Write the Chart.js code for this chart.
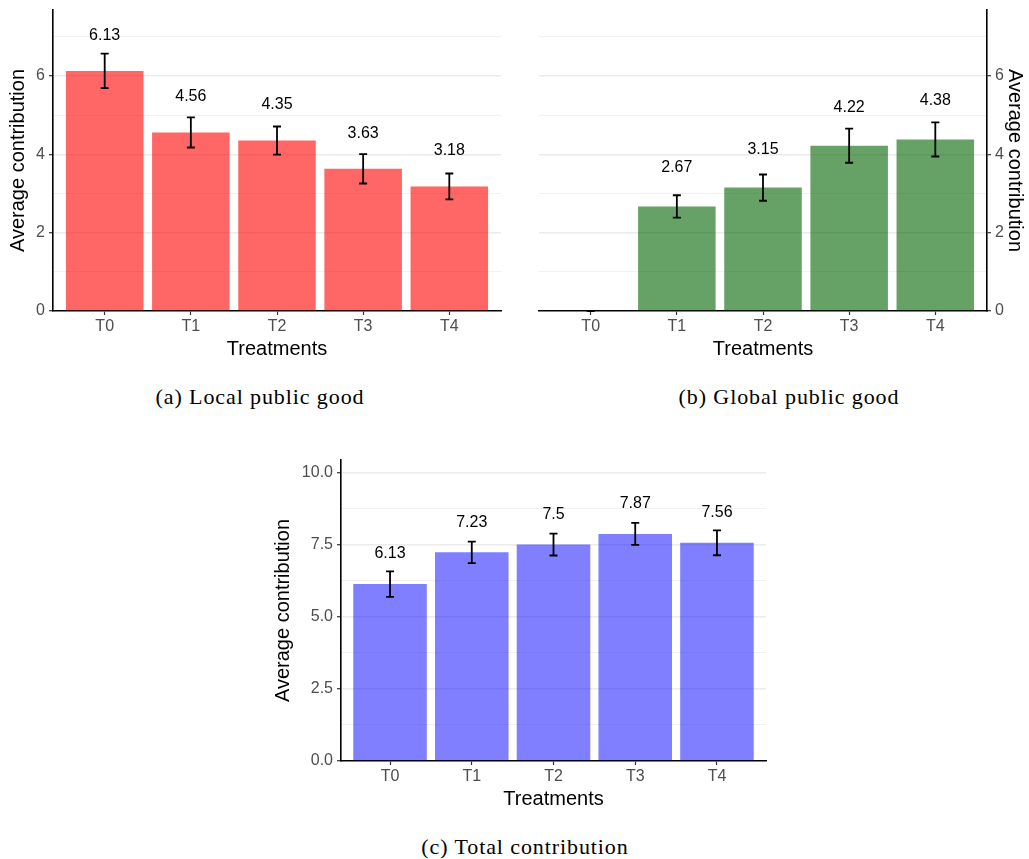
<!DOCTYPE html>
<html><head><meta charset="utf-8">
<script src="https://cdn.jsdelivr.net/npm/chart.js@4.4.1/dist/chart.umd.min.js"></script>
<style>
body{margin:0;background:#fff;width:1029px;height:859px;position:relative;overflow:hidden}
canvas{position:absolute}
.cap{position:absolute;font-family:'Liberation Serif',serif;font-size:22px;line-height:24px;color:#000;text-align:center;white-space:nowrap;letter-spacing:0.9px;transform:translateX(-50%)}
</style></head><body>
<canvas id="ca" width="515" height="365" style="left:0;top:0"></canvas>
<canvas id="cb" width="514" height="365" style="left:515px;top:0"></canvas>
<canvas id="cc" width="520" height="365" style="left:260px;top:450px"></canvas>
<div class="cap" style="left:260px;top:385px">(a) Local public good</div>
<div class="cap" style="left:789px;top:385px">(b) Global public good</div>
<div class="cap" style="left:525px;top:835px">(c) Total contribution</div>
<script>
const categories = ['T0','T1','T2','T3','T4'];
const localValues = [6.13, 4.56, 4.35, 3.63, 3.18];
const localErrors = [0.44, 0.385, 0.36, 0.375, 0.33];
const globalValues = [0, 2.67, 3.15, 4.22, 4.38];
const globalErrors = [0, 0.285, 0.335, 0.435, 0.435];
const totalValues = [6.13, 7.23, 7.5, 7.87, 7.56];
const totalErrors = [0.44, 0.37, 0.38, 0.38, 0.43];
const contribTicks = [0, 2, 4, 6];
const totalTicks = [0, 2.5, 5, 7.5, 10];
const xTitle = 'Treatments';
const yTitle = 'Average contribution';

const FAMILY = "'Liberation Sans', Arial, Helvetica, sans-serif";
const TRANSPARENT = 'rgba(0,0,0,0)';

const errorPlugin = {
  id: 'errlab',
  afterDatasetsDraw(chart, args, opts) {
    const ctx = chart.ctx, x = chart.scales.x, y = chart.scales.y;
    ctx.save();
    ctx.strokeStyle = '#000';
    ctx.lineWidth = 1.8;
    ctx.fillStyle = '#000';
    ctx.font = '16px ' + FAMILY;
    ctx.textAlign = 'center';
    ctx.textBaseline = 'middle';
    opts.values.forEach((v, i) => {
      const px = x.getPixelForValue(i);
      const top = y.getPixelForValue(v + opts.errors[i]);
      const bot = y.getPixelForValue(v - opts.errors[i]);
      const hw = 4;
      ctx.beginPath();
      ctx.moveTo(px, top); ctx.lineTo(px, bot);
      ctx.moveTo(px - hw, top); ctx.lineTo(px + hw, top);
      ctx.moveTo(px - hw, bot); ctx.lineTo(px + hw, bot);
      ctx.stroke();
      if (v > 0) {
        ctx.fillText(String(v), px, y.getPixelForValue(v + opts.labelOffset));
      }
    });
    ctx.restore();
  }
};

function makeChart(id, o) {
  const majors = o.ticks;
  const step = majors[1] - majors[0];
  const minors = majors.slice(1).map((t, i) => (t + majors[i]) / 2);
  const lastMinor = majors[majors.length - 1] + step / 2;
  if (lastMinor <= o.max) minors.push(lastMinor);
  const all = majors.concat(minors).sort((a, b) => a - b);
  const majorSet = new Set(majors);

  new Chart(document.getElementById(id), {
    type: 'bar',
    data: {
      datasets: [{
        data: o.values.map((v, i) => ({x: i, y: v})),
        backgroundColor: o.color,
        borderWidth: 0,
        barPercentage: 0.9,
        categoryPercentage: 1
      }]
    },
    plugins: [errorPlugin],
    options: {
      responsive: false,
      animation: false,
      layout: {padding: o.padding},
      plugins: {
        legend: {display: false},
        tooltip: {enabled: false},
        errlab: {values: o.values, errors: o.errors, labelOffset: o.labelOffset}
      },
      scales: {
        x: {
          type: 'linear',
          position: 'bottom',
          min: -0.6, max: 4.6,
          offset: false,
          afterBuildTicks: s => { s.ticks = categories.map((c, i) => ({value: i})); },
          afterFit: s => { s.height = 50; s.paddingLeft = 0; s.paddingRight = 0; },
          ticks: {
            callback: v => categories[v],
            color: '#4D4D4D',
            font: {family: FAMILY, size: 16},
            padding: 2,
            autoSkip: false,
            maxRotation: 0
          },
          grid: {
            drawOnChartArea: false,
            drawTicks: true,
            tickLength: 4,
            tickColor: '#333333',
            tickWidth: 1.2,
            offset: false
          },
          border: {display: true, color: '#000', width: 1.6},
          title: {display: true, text: xTitle, color: '#000', font: {family: FAMILY, size: 20}, padding: 0}
        },
        y: {
          type: 'linear',
          position: o.yPos,
          min: 0, max: o.max,
          afterBuildTicks: s => { s.ticks = all.map(v => ({value: v})); },
          afterFit: s => { s.width = o.yWidth; s.paddingTop = 0; s.paddingBottom = 0; },
          ticks: {
            callback: v => majorSet.has(v) ? o.fmt(v) : '',
            color: '#4D4D4D',
            font: {family: FAMILY, size: 16},
            padding: 4,
            autoSkip: false
          },
          grid: {
            drawTicks: true,
            tickLength: 4,
            color: c => (c.tick && c.tick.value === 0) ? TRANSPARENT : '#EBEBEB',
            lineWidth: c => (c.tick && majorSet.has(c.tick.value)) ? 1.4 : 0.7,
            tickColor: c => (c.tick && majorSet.has(c.tick.value)) ? '#333333' : TRANSPARENT,
            tickWidth: 1.2
          },
          border: {display: true, color: '#000', width: 1.6},
          title: {display: true, text: yTitle, color: '#000', font: {family: FAMILY, size: 20}, padding: 0}
        }
      }
    }
  });
}

makeChart('ca', {
  values: localValues, errors: localErrors, color: 'rgba(255,0,0,0.6)',
  ticks: contribTicks, max: 7.685, fmt: v => String(v), labelOffset: 0.91,
  yPos: 'left', yWidth: 47, padding: {left: 6, right: 14, top: 10, bottom: 4}
});
makeChart('cb', {
  values: globalValues, errors: globalErrors, color: 'rgba(0,100,0,0.6)',
  ticks: contribTicks, max: 7.685, fmt: v => String(v), labelOffset: 0.98,
  yPos: 'right', yWidth: 40, padding: {left: 24, right: 2, top: 10, bottom: 4}
});
makeChart('cc', {
  values: totalValues, errors: totalErrors, color: 'rgba(0,0,255,0.5)',
  ticks: totalTicks, max: 10.43, fmt: v => v.toFixed(1), labelOffset: 1.04,
  yPos: 'left', yWidth: 70, padding: {left: 11, right: 14, top: 10, bottom: 4}
});
</script>
</body></html>
